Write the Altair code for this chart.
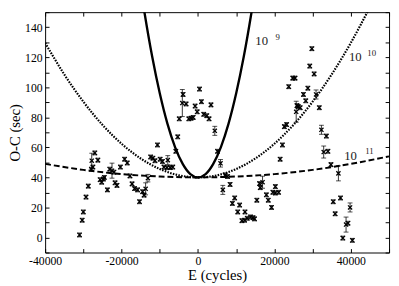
import altair as alt
import pandas as pd

# ---- observations (E in cycles, O-C in sec, error in sec) ----
E_pts = [-31000, -30300, -30000, -29300, -28700, -27900, -27800, -27500, -27000, -26200,
         -25600, -25200, -24750, -24500, -23700, -23100, -22500, -22000, -21700, -21200,
         -20300, -19200, -18500, -17800, -17250, -16600, -15800, -15300, -14500, -14100,
         -13700, -13100, -12400, -11800, -11250, -10600, -9900, -9300, -8900, -8100,
         -7900, -7250, -6600, -5800, -5300, -4900, -4100, -3900, -3100, -2400,
         -1800, -1250, -750, -200, 400, 900, 1500, 2300, 2900, 3400,
         4400, 5100, 5900, 6500, 7100, 7750, 8400, 9000, 9600, 10400,
         10900, 11500, 12200, 12300, 12900, 13750, 14400, 14800, 15400, 16100,
         16300, 16900, 17900, 18400, 19250, 19600, 20250, 20250, 21100, 21500,
         22100, 22600, 23200, 23750, 24800, 25400, 25700, 25900, 26250, 26750,
         27600, 28200, 28750, 29250, 29800, 30400, 30900, 31750, 32300, 33600,
         32900, 34000, 34800, 35400, 35900, 36750, 37300, 37900, 38750, 39250,
         39800, 40400]
OC_pts = [1.7, 11.5, 17.0, 26.9, 34.2, 45.5, 51.1, 46.9, 56.3, 51.5,
          38.5, 36.8, 38.9, 40.0, 31.7, 45.5, 44.5, 43.5, 36.4, 34.7,
          46.9, 52.1, 49.6, 41.0, 35.7, 32.6, 31.7, 23.8, 30.5, 28.2,
          32.4, 39.5, 53.6, 52.8, 51.1, 61.6, 52.1, 50.6, 46.9, 46.5,
          51.5, 46.5, 46.9, 57.4, 67.0, 79.0, 89.5, 95.2, 88.9, 79.0,
          79.4, 79.9, 87.5, 83.7, 98.8, 90.4, 82.0, 81.1, 79.0, 88.3,
          71.0, 57.4, 49.4, 31.7, 41.6, 40.6, 35.3, 22.7, 26.3, 17.0,
          21.6, 11.2, 11.5, 17.0, 12.8, 13.7, 13.2, 12.4, 24.8, 35.9,
          33.2, 36.8, 28.4, 24.8, 20.0, 30.1, 29.6, 33.9, 30.1, 52.1,
          61.6, 73.8, 75.2, 100.4, 106.1, 106.1, 83.7, 87.8, 87.2, 86.4,
          95.2, 91.0, 99.4, 114.1, 125.7, 108.9, 95.2, 86.4, 71.7, 67.5,
          56.9, 57.4, 48.5, 23.8, 15.8, 42.7, 26.3, -0.4, 8.6, 9.5,
          20.0, -1.9]
ERR = [1.3, 1.3, 1.3, 1.3, 1.3, 1.3, 5.0, 1.3, 1.3, 1.3,
       1.3, 1.3, 1.3, 1.3, 1.3, 1.3, 5.0, 1.3, 1.3, 1.3,
       1.3, 1.3, 1.3, 1.3, 1.3, 1.3, 1.3, 1.3, 1.3, 1.3,
       4.0, 2.5, 1.3, 1.3, 1.3, 1.3, 1.3, 1.3, 1.3, 1.3,
       3.0, 1.3, 1.3, 1.3, 1.3, 1.3, 9.0, 1.3, 1.3, 1.3,
       1.3, 1.3, 1.3, 1.3, 1.3, 1.3, 1.3, 1.3, 1.3, 1.3,
       3.0, 1.3, 2.5, 3.0, 1.3, 1.3, 1.3, 1.3, 1.3, 1.3,
       1.3, 1.3, 1.3, 1.3, 1.3, 1.3, 1.3, 1.3, 1.3, 1.3,
       1.3, 4.0, 1.3, 1.3, 1.3, 1.3, 1.3, 1.3, 1.3, 1.3,
       1.3, 1.3, 1.3, 1.3, 1.3, 1.3, 7.0, 1.3, 1.3, 1.3,
       1.3, 1.3, 1.3, 1.3, 1.3, 1.3, 3.0, 1.3, 3.0, 1.3,
       4.0, 1.3, 1.3, 1.3, 1.3, 5.0, 1.3, 1.3, 5.0, 1.3,
       3.0, 1.3]

# ---- model curves ----
E_1e9 = [-14500, -14000, -12000, -10000, -8000, -6000, -4000, -2000, 0,
         2000, 4000, 6000, 8000, 10000, 12000, 14000, 14500]
OC_1e9 = [157.7, 149.8, 120.6, 96.0, 75.8, 60.2, 49.0, 42.2, 40.0,
          42.2, 49.0, 60.2, 75.8, 96.0, 120.6, 149.8, 157.7]
E_1e10 = [-40000, -35000, -30000, -25000, -20000, -15000, -10000, -5000, 0,
          5000, 10000, 15000, 20000, 25000, 30000, 35000, 40000, 45000]
OC_1e10 = [129.6, 108.6, 90.4, 75.0, 62.4, 52.6, 45.6, 41.4, 40.0,
           41.4, 45.6, 52.6, 62.4, 75.0, 90.4, 108.6, 129.6, 153.4]
E_1e11 = [-40000, -30000, -20000, -10000, 0, 10000, 20000, 30000, 40000, 50000]
OC_1e11 = [49.0, 45.0, 42.2, 40.6, 40.0, 40.6, 42.2, 45.0, 49.0, 54.0]

# ---- curve labels ----
LAB_E = [15000, 39500, 38250]
LAB_OC = [130.5, 120.0, 54.5]
LAB_TXT = ["10", "10", "10"]
SUP_E = [20300, 44300, 43750]
SUP_OC = [133.5, 123.0, 57.5]
SUP_TXT = ["9", "10", "11"]

X_TICKS = [-40000, -30000, -20000, -10000, 0, 10000, 20000, 30000, 40000, 50000]
Y_TICKS = [-10, 0, 10, 20, 30, 40, 50, 60, 70, 80, 90, 100, 110, 120, 130, 140, 150]

FONT = "Liberation Serif"

pts = pd.DataFrame({"E": E_pts, "OC": OC_pts, "err": ERR})
pts["lo"] = pts["OC"] - pts["err"]
pts["hi"] = pts["OC"] + pts["err"]
c9 = pd.DataFrame({"E": E_1e9, "OC": OC_1e9})
c10 = pd.DataFrame({"E": E_1e10, "OC": OC_1e10})
c11 = pd.DataFrame({"E": E_1e11, "OC": OC_1e11})
lab = pd.DataFrame({"E": LAB_E, "OC": LAB_OC, "t": LAB_TXT})
sup = pd.DataFrame({"E": SUP_E, "OC": SUP_OC, "t": SUP_TXT})

xs = alt.Scale(domain=[-40000, 50000], nice=False, zero=False)
ys = alt.Scale(domain=[-10, 150], nice=False, zero=False)

common = dict(domain=False, grid=False, tickSize=4, offset=-4, tickColor="black", tickWidth=1,
              labelFont=FONT, labelFontSize=12, labelColor="black",
              titleFont=FONT, titleFontSize=15, titleFontWeight="normal", titleColor="black")

x_main = alt.Axis(orient="bottom", values=X_TICKS, title="E (cycles)",
                  labelExpr="datum.value % 20000 === 0 ? '' + datum.value : ''",
                  labelOverlap=False, labelFlush=False, labelPadding=3, titlePadding=2, **common)
y_main = alt.Axis(orient="left", values=Y_TICKS, title="O-C (sec)",
                  labelExpr="datum.value % 20 === 0 ? '' + datum.value : ''",
                  labelOverlap=False, labelFlush=True, labelPadding=3, titlePadding=2, **common)
x_top = alt.Axis(orient="top", values=X_TICKS, labels=False, title=None, **common)
y_right = alt.Axis(orient="right", values=Y_TICKS, labels=False, title=None, **common)

line11 = alt.Chart(c11).mark_line(color="black", strokeWidth=2, strokeDash=[6, 3],
                                   clip=True, interpolate="monotone").encode(
    x=alt.X("E:Q", scale=xs, axis=x_top),
    y=alt.Y("OC:Q", scale=ys, axis=y_right))
line10 = alt.Chart(c10).mark_line(color="black", strokeWidth=2.2, strokeDash=[1.6, 1.3],
                                   clip=True, interpolate="monotone").encode(
    x=alt.X("E:Q", scale=xs, axis=None),
    y=alt.Y("OC:Q", scale=ys, axis=None))
line9 = alt.Chart(c9).mark_line(color="black", strokeWidth=2.4,
                                 clip=True, interpolate="monotone").encode(
    x=alt.X("E:Q", scale=xs, axis=None),
    y=alt.Y("OC:Q", scale=ys, axis=None))

bars = alt.Chart(pts).mark_rule(color="black", strokeWidth=0.8).encode(
    x=alt.X("E:Q", scale=xs, axis=None),
    y=alt.Y("lo:Q", scale=ys, axis=None), y2="hi:Q")
cap_lo = alt.Chart(pts).mark_tick(color="black", orient="horizontal", size=5, thickness=1).encode(
    x=alt.X("E:Q", scale=xs, axis=None),
    y=alt.Y("lo:Q", scale=ys, axis=None))
cap_hi = alt.Chart(pts).mark_tick(color="black", orient="horizontal", size=5, thickness=1).encode(
    x=alt.X("E:Q", scale=xs, axis=None),
    y=alt.Y("hi:Q", scale=ys, axis=None))
points = alt.Chart(pts).mark_point(shape="M-1,-1L1,1M-1,1L1,-1", filled=False,
                                   color="black", strokeWidth=1.3, size=18, opacity=1).encode(
    x=alt.X("E:Q", scale=xs, axis=x_main),
    y=alt.Y("OC:Q", scale=ys, axis=y_main))

t_base = alt.Chart(lab).mark_text(font=FONT, fontSize=13, align="left", baseline="middle",
                                  color="#222222").encode(
    x=alt.X("E:Q", scale=xs, axis=None),
    y=alt.Y("OC:Q", scale=ys, axis=None), text="t:N")
t_sup = alt.Chart(sup).mark_text(font=FONT, fontSize=9, align="left", baseline="middle",
                                 color="#222222").encode(
    x=alt.X("E:Q", scale=xs, axis=None),
    y=alt.Y("OC:Q", scale=ys, axis=None), text="t:N")

chart = alt.layer(line11, line10, line9, bars, cap_lo, cap_hi, points, t_base, t_sup).resolve_axis(
    x="independent", y="independent"
).properties(
    width=352, height=246,
    padding={"left": 0, "top": 0, "right": 1, "bottom": 0},
    background="white",
).configure(
    font=FONT
).configure_view(
    stroke="black", strokeWidth=1
).configure_axis(
    labelFont=FONT, titleFont=FONT
)

chart.save("out.html", embed_options={"renderer": "svg", "actions": False})
